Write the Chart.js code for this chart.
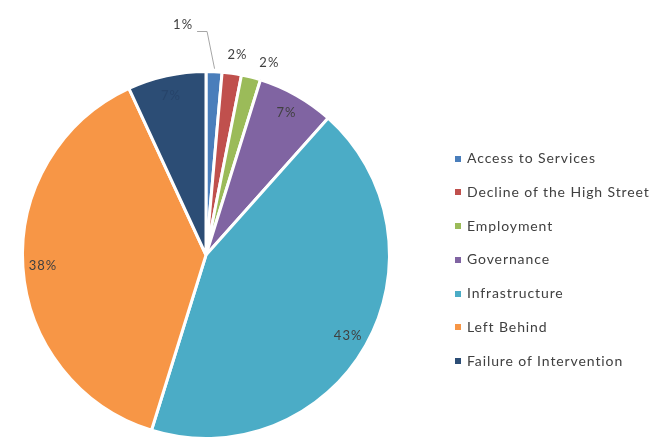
<!DOCTYPE html>
<html>
<head>
<meta charset="utf-8">
<script src="https://cdn.jsdelivr.net/npm/chart.js"></script>
<style>
  html, body { margin: 0; padding: 0; background: #fff; }
  #wrap { position: relative; width: 653px; height: 444px; }
  #legend { position: absolute; left: 455px; top: 149px; font-family: Lato, 'Open Sans', sans-serif; font-size: 14px; letter-spacing: 0.9px; color: #404040; }
  .lg-item { height: 33.8px; display: flex; align-items: flex-start; white-space: nowrap; }
  .lg-box { width: 6px; height: 6px; margin: 6.5px 6px 0 0; }
</style>
</head>
<body>
<div id="wrap">
  <canvas id="pie" width="653" height="444"></canvas>
  <div id="legend"></div>
</div>
<script>
const categories = ['Access to Services', 'Decline of the High Street', 'Employment', 'Governance', 'Infrastructure', 'Left Behind', 'Failure of Intervention'];
const shares = [1.4, 1.7, 1.7, 6.8, 43.2, 38.3, 6.9];
const colors = ['#4a7ebb', '#c0504d', '#9bbb59', '#8064a2', '#4bacc6', '#f79646', '#2c4d75'];
const labelFont = '13px Lato, "Open Sans", sans-serif';

// which slices get their % outside the pie
const outside = [true, true, true, false, false, false, false];

const pieLabels = {
  id: 'pieLabels',
  afterDatasetsDraw(chart) {
    const ctx = chart.ctx;
    const meta = chart.getDatasetMeta(0);
    ctx.save();
    ctx.font = labelFont;
    ctx.letterSpacing = '1px';
    ctx.textAlign = 'center';
    ctx.textBaseline = 'middle';
    ctx.fillStyle = '#404040';
    meta.data.forEach((arc, i) => {
      const { x, y, startAngle, endAngle, outerRadius } = arc.getProps(['x', 'y', 'startAngle', 'endAngle', 'outerRadius'], true);
      const mid = (startAngle + endAngle) / 2;
      const txt = Math.round(shares[i]) + '%';
      if (i === 0) {
        // leader line label
        const ex = x + Math.cos(mid) * outerRadius, ey = y + Math.sin(mid) * outerRadius;
        const ly = y - outerRadius - 47;
        ctx.strokeStyle = '#a6a6a6';
        ctx.lineWidth = 1;
        ctx.beginPath();
        ctx.moveTo(ex + 0.5, ey - 3);
        ctx.lineTo(ex - 7, ly + 7);
        ctx.lineTo(ex - 17, ly + 7);
        ctx.stroke();
        ctx.fillText(txt, ex - 31, ly);
      } else if (outside[i]) {
        const r = outerRadius + 19;
        const nudge = i === 2 ? 0.07 : 0.015;
        ctx.fillText(txt, x + Math.cos(mid + nudge) * r, y + Math.sin(mid + nudge) * r);
      } else {
        const r = outerRadius * 0.89;
        ctx.fillStyle = i === 6 ? '#27446a' : '#404040';
        ctx.fillText(txt, x + Math.cos(mid) * r, y + Math.sin(mid) * r);
        ctx.fillStyle = '#404040';
      }
    });
    ctx.restore();
  }
};

new Chart(document.getElementById('pie'), {
  type: 'pie',
  data: {
    labels: categories,
    datasets: [{
      data: shares,
      backgroundColor: colors,
      borderColor: '#ffffff',
      borderWidth: 3
    }]
  },
  options: {
    responsive: false,
    animation: false,
    layout: { padding: { left: 21, right: 262, top: 70, bottom: 4 } },
    plugins: { legend: { display: false }, tooltip: { enabled: false } }
  },
  plugins: [pieLabels]
});

const legendEl = document.getElementById('legend');
categories.forEach((c, i) => {
  const row = document.createElement('div');
  row.className = 'lg-item';
  row.innerHTML = `<span class="lg-box" style="background:${colors[i]}"></span><span>${c}</span>`;
  legendEl.appendChild(row);
});
</script>
</body>
</html>
